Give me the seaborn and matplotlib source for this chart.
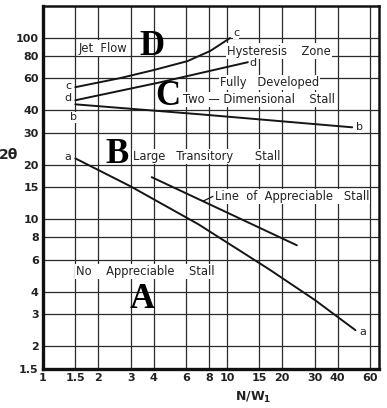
import matplotlib
import pandas as pd

matplotlib.use("Agg")
import matplotlib.pyplot as plt
import seaborn as sns
from matplotlib.ticker import FixedLocator, NullLocator

# curve data (N/W1 vs 2 theta)
a_x = [1.5, 3.0, 7.0, 17.0, 30.0, 50.0]
a_y = [21.7, 15.2, 9.4, 5.3, 3.6, 2.45]
b_x = [1.5, 7.1, 48.0]
b_y = [43.1, 38.0, 32.2]
c_x = [1.5, 2.6, 4.0, 6.1, 8.1, 10.4]
c_y = [53.6, 60.0, 66.6, 74.6, 84.8, 100.0]
d_x = [1.5, 4.3, 13.0]
d_y = [45.4, 56.9, 73.6]
stall_x = [3.9, 24.0]
stall_y = [17.1, 7.2]

x_ticks = [1, 1.5, 2, 3, 4, 6, 8, 10, 15, 20, 30, 40, 60]
x_labels = ["1", "1.5", "2", "3", "4", "6", "8", "10", "15", "20", "30", "40", "60"]
y_ticks = [1.5, 2, 3, 4, 6, 8, 10, 15, 20, 30, 40, 60, 80, 100]
y_labels = ["1.5", "2", "3", "4", "6", "8", "10", "15", "20", "30", "40", "60", "80", "100"]

sns.set_style("white")
plt.rcParams["font.family"] = ["DejaVu Sans"]

fig = plt.figure(figsize=(3.87, 4.08), dpi=100)
ax = fig.add_axes([0.111, 0.096, 0.868, 0.889])
ax.set_xscale("log")
ax.set_yscale("log")
ax.set_xlim(1, 67)
ax.set_ylim(1.5, 150)

for xs, ys in [(a_x, a_y), (b_x, b_y), (c_x, c_y), (d_x, d_y), (stall_x, stall_y)]:
    df = pd.DataFrame({"x": xs, "y": ys})
    sns.lineplot(data=df, x="x", y="y", ax=ax, color="#151515", lw=1.4,
                 sort=False, estimator=None)

ax.xaxis.set_major_locator(FixedLocator(x_ticks))
ax.yaxis.set_major_locator(FixedLocator(y_ticks))
ax.xaxis.set_minor_locator(NullLocator())
ax.yaxis.set_minor_locator(NullLocator())
ax.set_xticklabels(x_labels, fontsize=8, fontweight="bold", color="#222")
ax.set_yticklabels(y_labels, fontsize=8, fontweight="bold", color="#222")
ax.tick_params(length=0, pad=3)
ax.grid(True, color="#2a2a2a", lw=0.9, zorder=0)
ax.set_axisbelow(True)
for s in ax.spines.values():
    s.set_visible(True)
    s.set_color("#111")
    s.set_linewidth(1.8)
ax.spines["left"].set_linewidth(2.4)
ax.spines["bottom"].set_linewidth(2.4)
ax.set_xlabel("")
ax.set_ylabel("")

box = dict(facecolor="white", edgecolor="none", pad=0.8)
lab = dict(fontsize=8.3, color="#222", bbox=box, va="center", ha="left")
ax.text(1.57, 88, "Jet  Flow", **lab)
ax.text(10.0, 84.8, "Hysteresis    Zone", **lab)
ax.text(9.16, 57.1, "Fully   Developed", **lab)
ax.text(5.77, 46.0, "Two — Dimensional    Stall", **lab)
ax.text(3.08, 22.3, "Large   Transitory      Stall", **lab)
ax.text(8.6, 13.4, "Line  of  Appreciable   Stall", **lab)
ax.text(1.51, 5.16, "No    Appreciable    Stall", **lab)
ax.plot([8.4, 7.41], [13.4, 12.6], color="#151515", lw=0.9)

big = dict(fontsize=25, fontweight="bold", family="Liberation Serif",
           color="black", ha="center", va="center")
ax.text(3.91, 90.3, "D", **big)
ax.text(4.78, 47.8, "C", **big)
ax.text(2.53, 22.9, "B", **big)
ax.text(3.45, 3.61, "A", **big)

small = dict(fontsize=8, color="#222", ha="center", va="center",
             bbox=dict(facecolor="white", edgecolor="none", pad=0.2))
ax.text(1.37, 22.0, "a", **small)
ax.text(54.8, 2.38, "a", **small)
ax.text(1.47, 36.6, "b", **small)
ax.text(52.8, 32.2, "b", **small)
ax.text(1.37, 54.3, "c", **small)
ax.text(11.2, 106, "c", **small)
ax.text(1.37, 46.6, "d", **small)
ax.text(13.9, 73.0, "d", **small)

fig.text(9 / 387, 1 - 155 / 408, "2θ", fontsize=10, fontweight="bold",
         color="#222", ha="center", va="center")
fig.text(253 / 387, 1 - 397 / 408, "N/W$_\\mathbf{1}$", fontsize=9,
         fontweight="bold", color="#222", ha="center", va="center")

fig.savefig("out.png", dpi=100, facecolor="white")
